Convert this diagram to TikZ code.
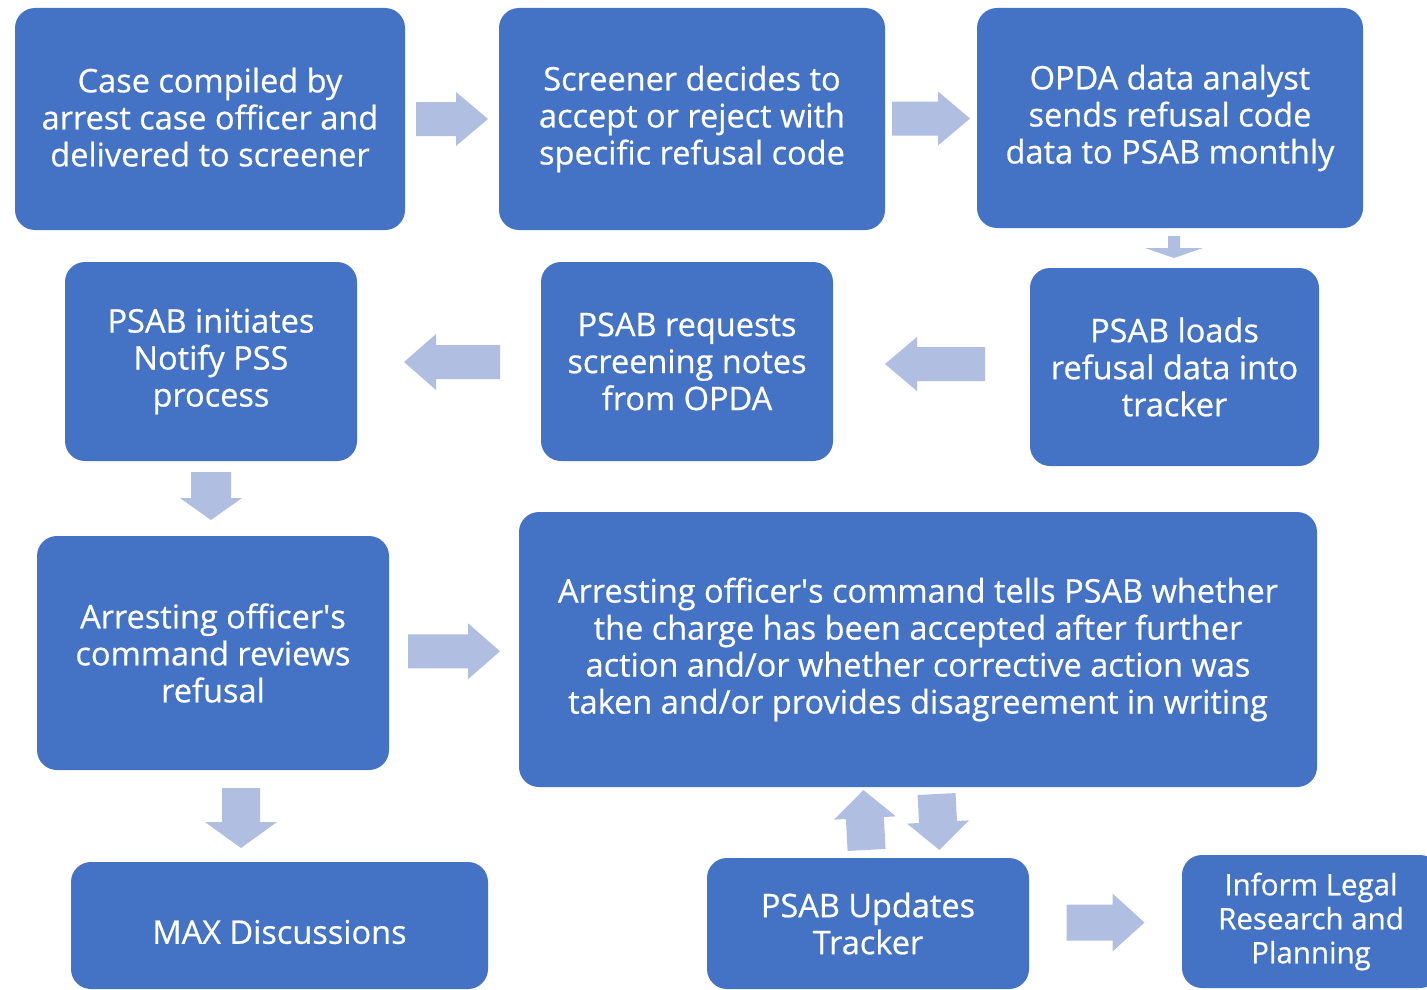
\documentclass[tikz,border=0pt]{standalone}
\usepackage{fontspec}
\setmainfont{Open Sans}
\newfontfamily\boxfont{Open Sans}[FakeBold=0.6]
\usetikzlibrary{calc}
\definecolor{boxblue}{HTML}{4472C4}
\definecolor{arrblue}{HTML}{B0BEE2}
\newcommand\barrow[6]{% center, angle, length, shaft, headw, headl
  \fill[arrblue, shift={(#1)}, rotate=#2]
    ({-#3/2},{-#4/2}) -- ({#3/2-#6},{-#4/2}) -- ({#3/2-#6},{-#5/2}) -- ({#3/2},0)
    -- ({#3/2-#6},{#5/2}) -- ({#3/2-#6},{#4/2}) -- ({-#3/2},{#4/2}) -- cycle;}
\tikzset{
  box/.style={fill=boxblue, draw=none, rounded corners=20pt, text=white,
    align=center, inner sep=0pt, font=\boxfont\fontsize{32.5}{37}\selectfont},
}
\begin{document}
\begin{tikzpicture}[x=1pt,y=-1pt]
\useasboundingbox (0,0) rectangle (1427,990);
\clip (0,0) rectangle (1427,990);
\fill[white] (0,0) rectangle (1427,990);
\node[box, minimum width=390pt, minimum height=222pt] (A) at (210,119) {\raisebox{4pt}{Case compiled by}\\\raisebox{4pt}{arrest case officer and}\\\raisebox{4pt}{delivered to screener}};
\node[box, minimum width=386pt, minimum height=222pt] (B) at (692,119) {Screener decides to\\accept or reject with\\specific refusal code};
\node[box, minimum width=386pt, minimum height=220pt] (C) at (1170,118) {OPDA data analyst\\sends refusal code\\data to PSAB monthly};
\node[box, minimum width=289pt, minimum height=198pt] (D) at (1174.5,367) {PSAB loads\\refusal data into\\tracker};
\node[box, minimum width=292pt, minimum height=199pt] (E) at (687,361.5) {PSAB requests\\screening notes\\from OPDA};
\node[box, minimum width=292pt, minimum height=199pt] (F) at (211,361.5) {PSAB initiates\\Notify PSS\\process};
\node[box, minimum width=352pt, minimum height=234pt] (G) at (213,653) {Arresting officer\textquotesingle s\\command reviews\\refusal};
\node[box, minimum width=798pt, minimum height=275pt] (H) at (918,649.5) {Arresting officer\textquotesingle s command tells PSAB whether\\the charge has been accepted after further\\action and/or whether corrective action was\\taken and/or provides disagreement in writing};
\node[box, minimum width=417pt, minimum height=127pt] (I) at (279.5,925.5) {};
\node[font=\boxfont\fontsize{32.5}{37}\selectfont, text=white, inner sep=0pt] (It) at (279.5,932) {MAX Discussions};
\node[box, minimum width=322pt, minimum height=131pt] (J) at (868,923.5) {PSAB Updates\\Tracker};
\node[box, minimum width=258pt, minimum height=133pt, font=\boxfont\fontsize{29.5}{34}\selectfont] (K) at (1311,921.5) {Inform Legal\\Research and\\Planning};
% block arrows
\coordinate (ab) at ($(A.east)!0.5!(B.west)$);
\coordinate (bc) at ($(B.east)!0.5!(C.west)$);
\coordinate (cd) at (1174,247);
\coordinate (de) at (935,364);
\coordinate (ef) at (452,362);
\coordinate (fg) at (211,496);
\coordinate (gh) at ($(G.east)!0.5!(H.west)$);
\coordinate (gi) at (241,818);
\coordinate (jh) at (865,820);
\coordinate (hj) at (938,822);
\coordinate (jk) at ($(J.east)!0.5!(K.west)$);
\barrow{ab}{0}{72}{34}{54}{32}
\barrow{bc}{0}{78}{34}{54}{32}
\barrow{cd}{-90}{22}{12}{58}{10}
\barrow{de}{180}{100}{34}{54}{32}
\barrow{ef}{180}{96}{34}{56}{32}
\barrow{fg}{-90}{48}{40}{62}{22}
\barrow{gh}{0}{92}{34}{56}{32}
\barrow{gi}{-90}{60}{38}{72}{26}
\barrow{jh}{93}{60}{38}{62}{28}
\barrow{hj}{-87}{56}{38}{62}{28}
\barrow{jk}{0}{78}{36}{58}{32}
\end{tikzpicture}
\end{document}
